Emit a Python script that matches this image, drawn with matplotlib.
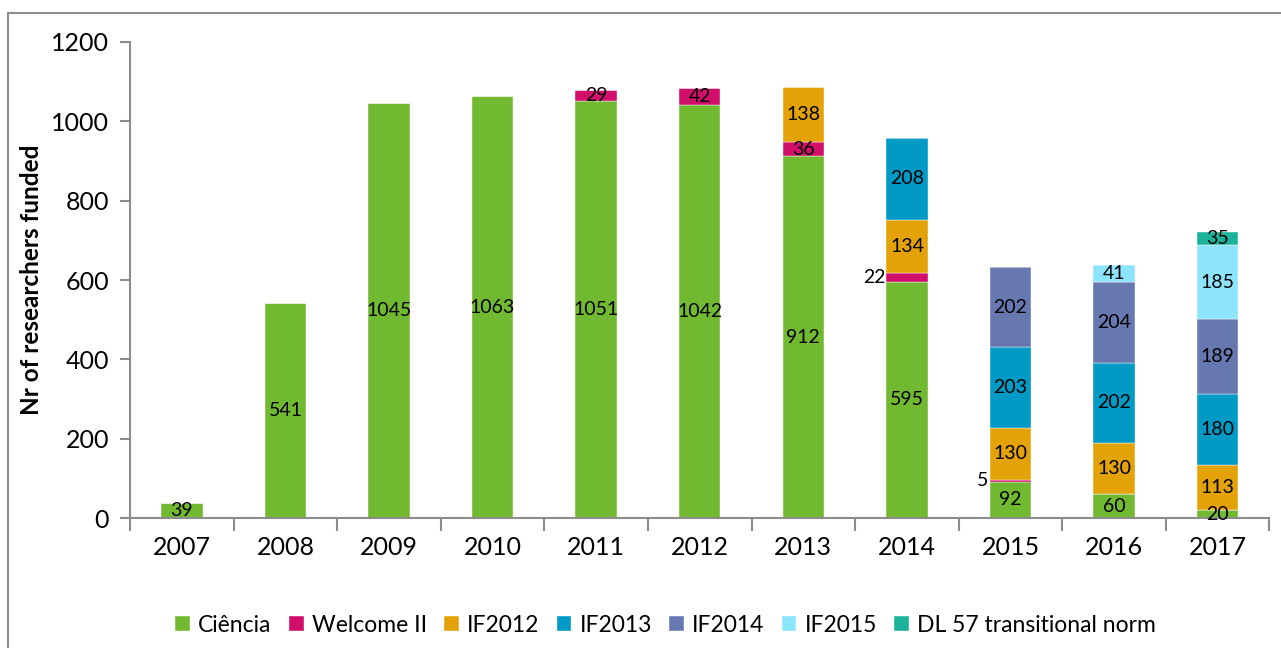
import matplotlib.pyplot as plt
import numpy as np
from matplotlib.patches import Rectangle

plt.rcParams['font.family'] = ['Lato', 'DejaVu Sans']

years = ['2007', '2008', '2009', '2010', '2011', '2012', '2013', '2014', '2015', '2016', '2017']
ciencia = [39, 541, 1045, 1063, 1051, 1042, 912, 595, 92, 60, 20]
welcome = [0, 0, 0, 0, 29, 42, 36, 22, 5, 0, 0]
if2012 = [0, 0, 0, 0, 0, 0, 138, 134, 130, 130, 113]
if2013 = [0, 0, 0, 0, 0, 0, 0, 208, 203, 202, 180]
if2014 = [0, 0, 0, 0, 0, 0, 0, 0, 202, 204, 189]
if2015 = [0, 0, 0, 0, 0, 0, 0, 0, 0, 41, 185]
dl57 = [0, 0, 0, 0, 0, 0, 0, 0, 0, 0, 35]

series = [
    ('Ciência', ciencia, '#72B932'),
    ('Welcome II', welcome, '#D10F6B'),
    ('IF2012', if2012, '#E3A208'),
    ('IF2013', if2013, '#009AC4'),
    ('IF2014', if2014, '#6778B1'),
    ('IF2015', if2015, '#8DE5FD'),
    ('DL 57 transitional norm', dl57, '#1DB39A'),
]

fig = plt.figure(figsize=(12.81, 6.48), dpi=100)
ax = fig.add_axes([0.1015, 0.2006, 0.8895, 0.7346])

# outer chart border (runs off the right and bottom edges)
top = 1 - 13 / 648
fig.patches.append(Rectangle((8 / 1281, -0.05), 1.2, top + 0.05,
                             transform=fig.transFigure, fill=False,
                             edgecolor='#8C8C8C', linewidth=1.5))

x = np.arange(len(years))
bottom = np.zeros(len(years))
for name, vals, color in series:
    vals = np.array(vals, dtype=float)
    ax.bar(x, vals, 0.4, bottom=bottom, color=color, edgecolor='white',
           linewidth=0.3, label=name)
    for i, v in enumerate(vals):
        if v <= 0:
            continue
        if name == 'Welcome II' and i in (7, 8):
            # small segments labelled to the left of the bar
            ax.text(x[i] - 0.21, bottom[i] + v / 2, f'{int(v)}', ha='right',
                    va='center', fontsize=14)
        else:
            ax.text(x[i], bottom[i] + v / 2, f'{int(v)}', ha='center',
                    va='center', fontsize=14)
    bottom += vals

ax.set_xlim(-0.5, len(years) - 0.5)
ax.set_ylim(0, 1200)
ax.set_yticks(np.arange(0, 1201, 200))
ax.set_xticks(x)
ax.set_xticklabels(years)
ax.set_xticks(np.arange(-0.5, len(years), 1), minor=True)
ax.tick_params(axis='x', which='major', length=0, labelsize=18, pad=13)
ax.tick_params(axis='x', which='minor', length=9, color='#8C8C8C', width=1.5, direction='out')
ax.tick_params(axis='y', length=7, color='#8C8C8C', width=1.5, labelsize=18, pad=8)

for s in ['top', 'right']:
    ax.spines[s].set_visible(False)
for s in ['left', 'bottom']:
    ax.spines[s].set_color('#8C8C8C')
    ax.spines[s].set_linewidth(1.5)

ax.set_ylabel('Nr of researchers funded', fontsize=17.5, fontweight='bold', labelpad=6)

ax.legend(loc='center', bbox_to_anchor=(0.47, -0.225), ncol=7, frameon=False,
          fontsize=16.5, handlelength=0.65, handleheight=0.65, handletextpad=0.35,
          columnspacing=0.75)

fig.savefig('out.png', dpi=100)
